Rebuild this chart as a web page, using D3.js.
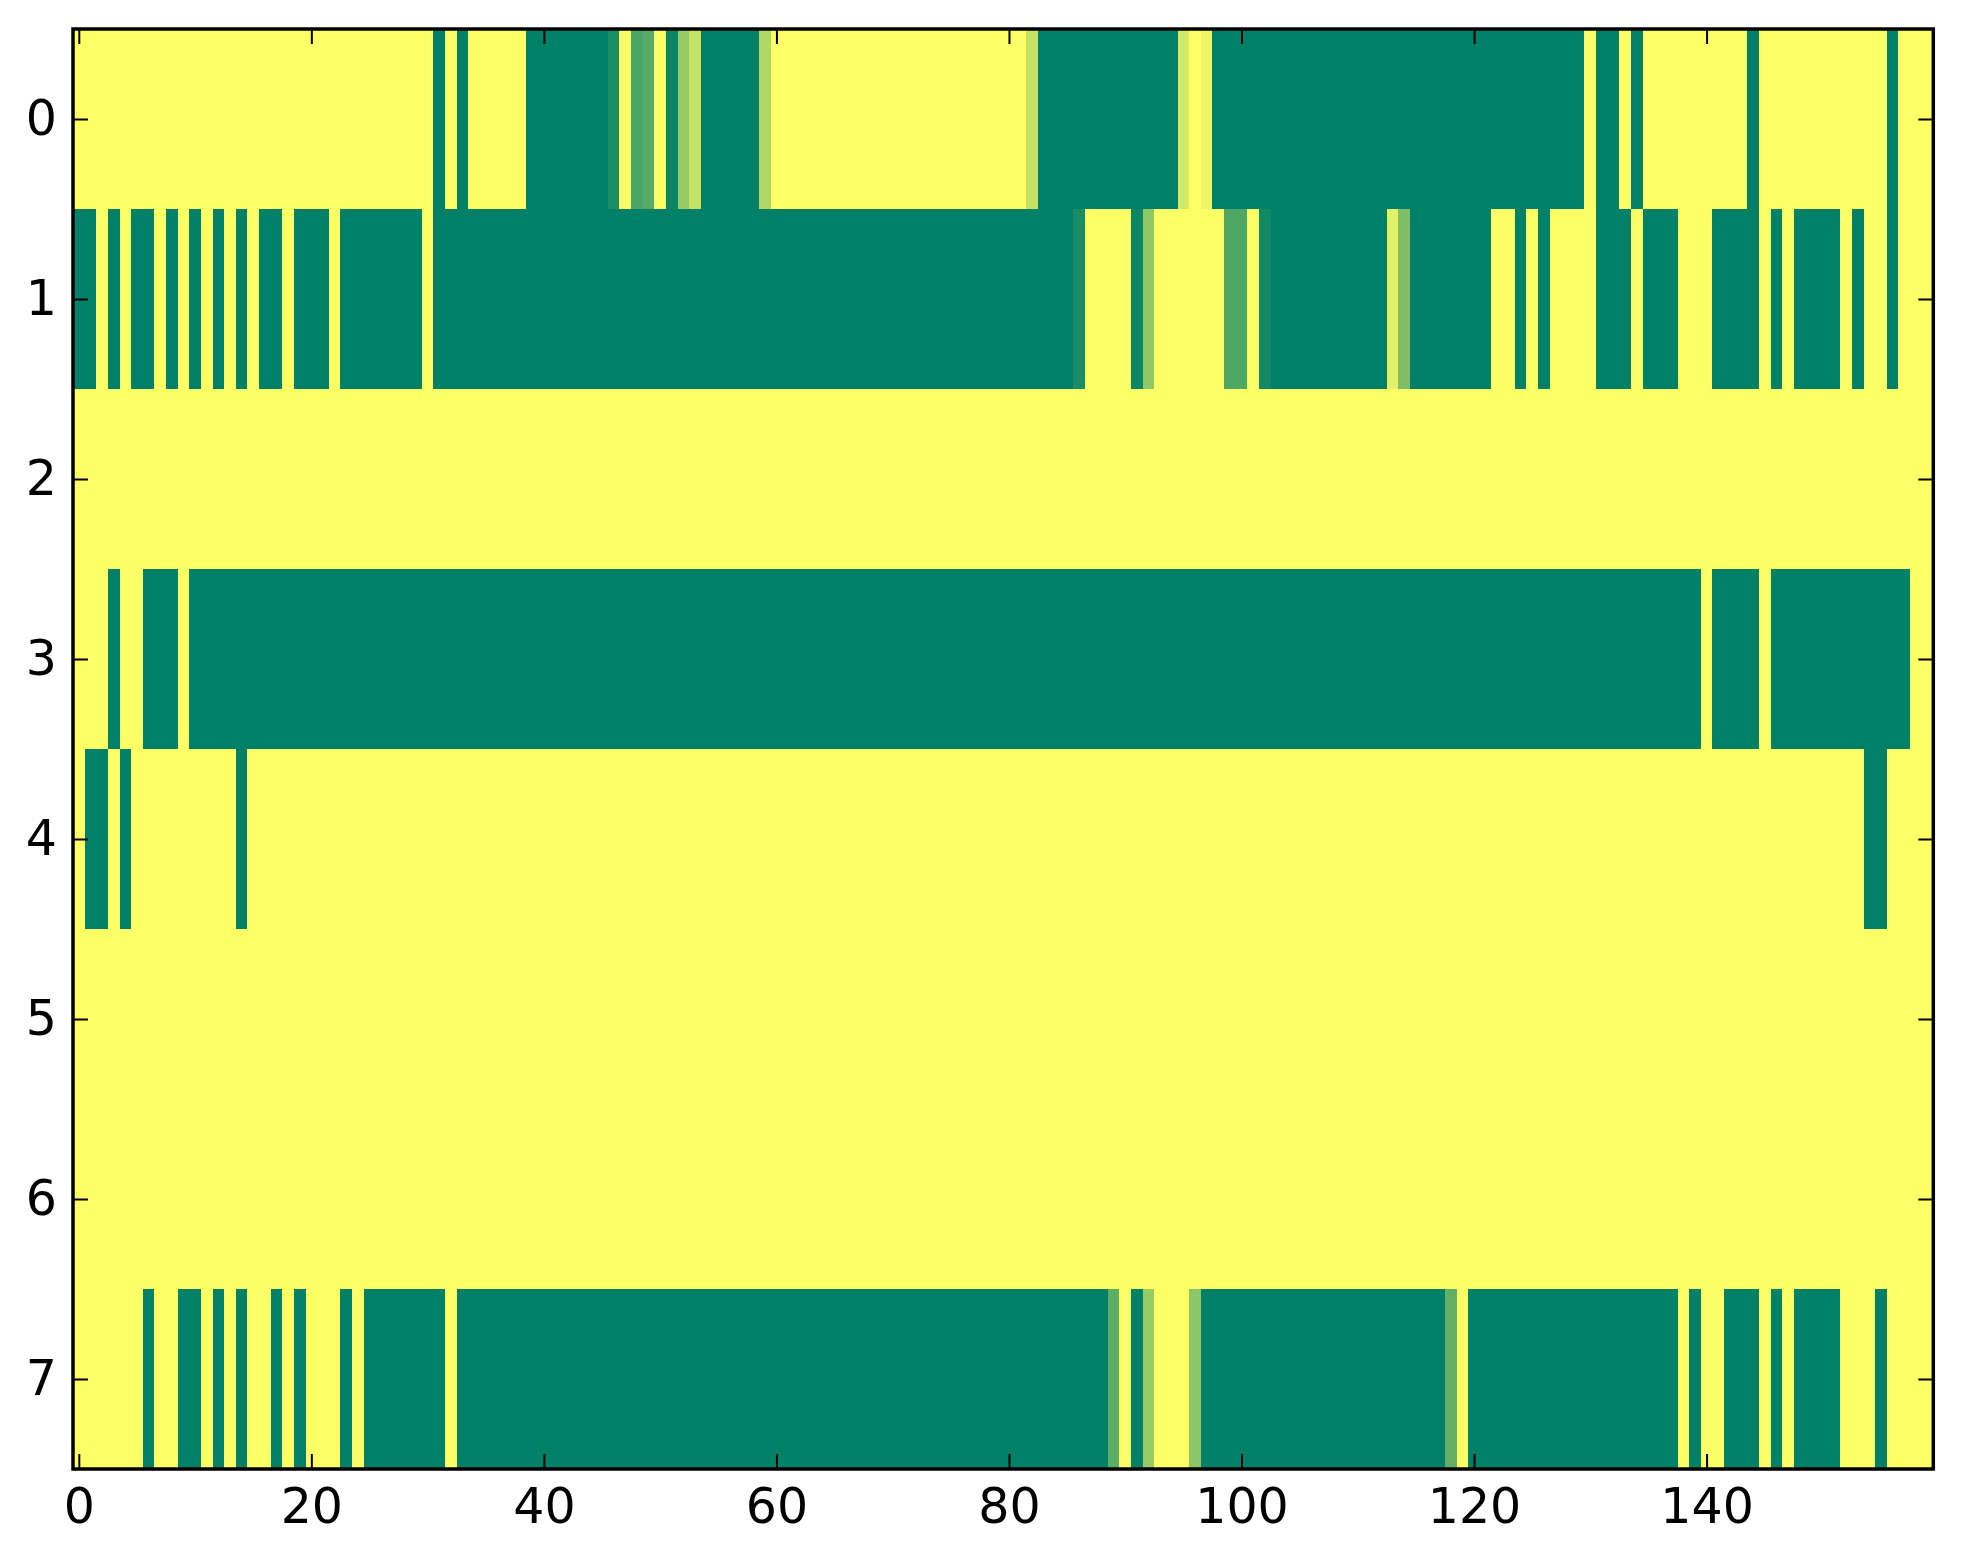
<!DOCTYPE html>
<html>
<head>
<meta charset="utf-8">
<script src="https://cdn.jsdelivr.net/npm/d3@7"></script>
<style>
  body { margin: 0; background: #fff; }
  .axis text { font-family: "DejaVu Sans", sans-serif; font-size: 49px; fill: #000; }
  .axis line { stroke: #000; stroke-width: 2; }
</style>
</head>
<body>
<svg width="1963" height="1564"></svg>
<script>
// Data: one array per image row, 160 columns each (0 = green, 1 = yellow)
const row0 = [
  1,1,1,1,1,1,1,1,1,1,1,1,1,1,1,1,1,1,1,1,
  1,1,1,1,1,1,1,1,1,1,1,0,1,0,1,1,1,1,1,0,
  0,0,0,0,0,0,.1,1,.29,.34,1,.04,.59,.78,0,0,0,0,0,.69,
  1,1,1,1,1,1,1,1,1,1,1,1,1,1,1,1,1,1,1,1,
  1,1,.78,0,0,0,0,0,0,0,0,0,0,0,0,.83,1,.93,0,0,
  0,0,0,0,0,0,0,0,0,0,0,0,0,0,0,0,0,0,0,0,
  0,0,0,0,0,0,0,0,0,0,1,0,0,1,0,1,1,1,1,1,
  1,1,1,1,0,1,1,1,1,1,1,1,1,1,1,1,0,1,1,1
]
const row1 = [
  0,0,1,0,1,0,0,1,0,1,0,1,0,1,0,1,0,0,1,0,
  0,0,1,0,0,0,0,0,0,0,1,0,0,0,0,0,0,0,0,0,
  0,0,0,0,0,0,0,0,0,0,0,0,0,0,0,0,0,0,0,0,
  0,0,0,0,0,0,0,0,0,0,0,0,0,0,0,0,0,0,0,0,
  0,0,0,0,0,0,.1,1,1,1,1,.05,.57,1,1,1,1,1,1,.31,
  .31,1,.07,0,0,0,0,0,0,0,0,0,0,.89,.49,0,0,0,0,0,
  0,0,1,1,0,1,0,1,1,1,1,0,0,0,1,0,0,0,1,1,
  1,0,0,0,0,1,0,1,0,0,0,0,1,0,1,1,0,1,1,1
]
const row2 = [
  1,1,1,1,1,1,1,1,1,1,1,1,1,1,1,1,1,1,1,1,
  1,1,1,1,1,1,1,1,1,1,1,1,1,1,1,1,1,1,1,1,
  1,1,1,1,1,1,1,1,1,1,1,1,1,1,1,1,1,1,1,1,
  1,1,1,1,1,1,1,1,1,1,1,1,1,1,1,1,1,1,1,1,
  1,1,1,1,1,1,1,1,1,1,1,1,1,1,1,1,1,1,1,1,
  1,1,1,1,1,1,1,1,1,1,1,1,1,1,1,1,1,1,1,1,
  1,1,1,1,1,1,1,1,1,1,1,1,1,1,1,1,1,1,1,1,
  1,1,1,1,1,1,1,1,1,1,1,1,1,1,1,1,1,1,1,1
]
const row3 = [
  1,1,1,0,1,1,0,0,0,1,0,0,0,0,0,0,0,0,0,0,
  0,0,0,0,0,0,0,0,0,0,0,0,0,0,0,0,0,0,0,0,
  0,0,0,0,0,0,0,0,0,0,0,0,0,0,0,0,0,0,0,0,
  0,0,0,0,0,0,0,0,0,0,0,0,0,0,0,0,0,0,0,0,
  0,0,0,0,0,0,0,0,0,0,0,0,0,0,0,0,0,0,0,0,
  0,0,0,0,0,0,0,0,0,0,0,0,0,0,0,0,0,0,0,0,
  0,0,0,0,0,0,0,0,0,0,0,0,0,0,0,0,0,0,0,0,
  1,0,0,0,0,1,0,0,0,0,0,0,0,0,0,0,0,0,1,1
]
const row4 = [
  1,0,0,1,0,1,1,1,1,1,1,1,1,1,0,1,1,1,1,1,
  1,1,1,1,1,1,1,1,1,1,1,1,1,1,1,1,1,1,1,1,
  1,1,1,1,1,1,1,1,1,1,1,1,1,1,1,1,1,1,1,1,
  1,1,1,1,1,1,1,1,1,1,1,1,1,1,1,1,1,1,1,1,
  1,1,1,1,1,1,1,1,1,1,1,1,1,1,1,1,1,1,1,1,
  1,1,1,1,1,1,1,1,1,1,1,1,1,1,1,1,1,1,1,1,
  1,1,1,1,1,1,1,1,1,1,1,1,1,1,1,1,1,1,1,1,
  1,1,1,1,1,1,1,1,1,1,1,1,1,1,0,0,1,1,1,1
]
const row5 = row2.slice()
const row6 = row2.slice()
const row7 = [
  1,1,1,1,1,1,0,1,1,0,0,1,0,1,0,1,1,0,1,0,
  1,1,1,0,1,0,0,0,0,0,0,0,1,0,0,0,0,0,0,0,
  0,0,0,0,0,0,0,0,0,0,0,0,0,0,0,0,0,0,0,0,
  0,0,0,0,0,0,0,0,0,0,0,0,0,0,0,0,0,0,0,0,
  0,0,0,0,0,0,0,0,0,.37,1,0,.59,1,1,1,.55,0,0,0,
  0,0,0,0,0,0,0,0,0,0,0,0,0,0,0,0,0,0,.38,1,
  0,0,0,0,0,0,0,0,0,0,0,0,0,0,0,0,0,0,1,0,
  1,1,0,0,0,1,0,1,0,0,0,0,1,1,1,0,1,1,1,1
]
const rows = [row0, row1, row2, row3, row4, row5, row6, row7]
const xTicks = [0, 20, 40, 60, 80, 100, 120, 140]
const yTicks = [0, 1, 2, 3, 4, 5, 6, 7]

// Set up
const svg = d3.select('svg')
const plotLeft = 73, plotRight = 1933.3, plotTop = 29, plotBottom = 1469

const x = d3.scaleLinear().domain([-0.5, 159.5]).range([plotLeft, plotRight])
const y = d3.scaleLinear().domain([-0.5, 7.5]).range([plotTop, plotBottom])
// matplotlib "summer": green (0) -> yellow (1)
const color = d3.scaleLinear().domain([0, 1]).range(['#008066', '#ffff66'])

const cells = rows.flatMap((r, i) => r.map((v, j) => ({ row: i, col: j, v: v })))

svg.append('g')
    .attr('shape-rendering', 'crispEdges')
    .selectAll('rect')
    .data(cells)
    .join('rect')
    .attr('x', d => x(d.col - 0.5))
    .attr('y', d => y(d.row - 0.5))
    .attr('width', d => x(d.col + 0.5) - x(d.col - 0.5) + 0.5)
    .attr('height', d => y(d.row + 0.5) - y(d.row - 0.5) + 0.5)
    .attr('fill', d => color(d.v))

// axes, ticks pointing inwards on all four sides
const tick = -15

svg.append('g')
    .attr('class', 'axis')
    .attr('transform', `translate(0,${plotBottom})`)
    .call(d3.axisBottom(x).tickValues(xTicks).tickSizeInner(tick).tickSizeOuter(0).tickPadding(19))

svg.append('g')
    .attr('class', 'axis')
    .attr('transform', `translate(0,${plotTop})`)
    .call(d3.axisTop(x).tickValues(xTicks).tickSizeInner(tick).tickSizeOuter(0).tickFormat(''))

svg.append('g')
    .attr('class', 'axis')
    .attr('transform', `translate(${plotLeft},0)`)
    .call(d3.axisLeft(y).tickValues(yTicks).tickSizeInner(tick).tickSizeOuter(0).tickPadding(16))

svg.append('g')
    .attr('class', 'axis')
    .attr('transform', `translate(${plotRight},0)`)
    .call(d3.axisRight(y).tickValues(yTicks).tickSizeInner(tick).tickSizeOuter(0).tickFormat(''))

svg.selectAll('.axis .domain').remove()

// frame
svg.append('rect')
    .attr('x', plotLeft)
    .attr('y', plotTop)
    .attr('width', plotRight - plotLeft)
    .attr('height', plotBottom - plotTop)
    .attr('fill', 'none')
    .attr('stroke', '#000')
    .attr('stroke-width', 3.5)
</script>
</body>
</html>
